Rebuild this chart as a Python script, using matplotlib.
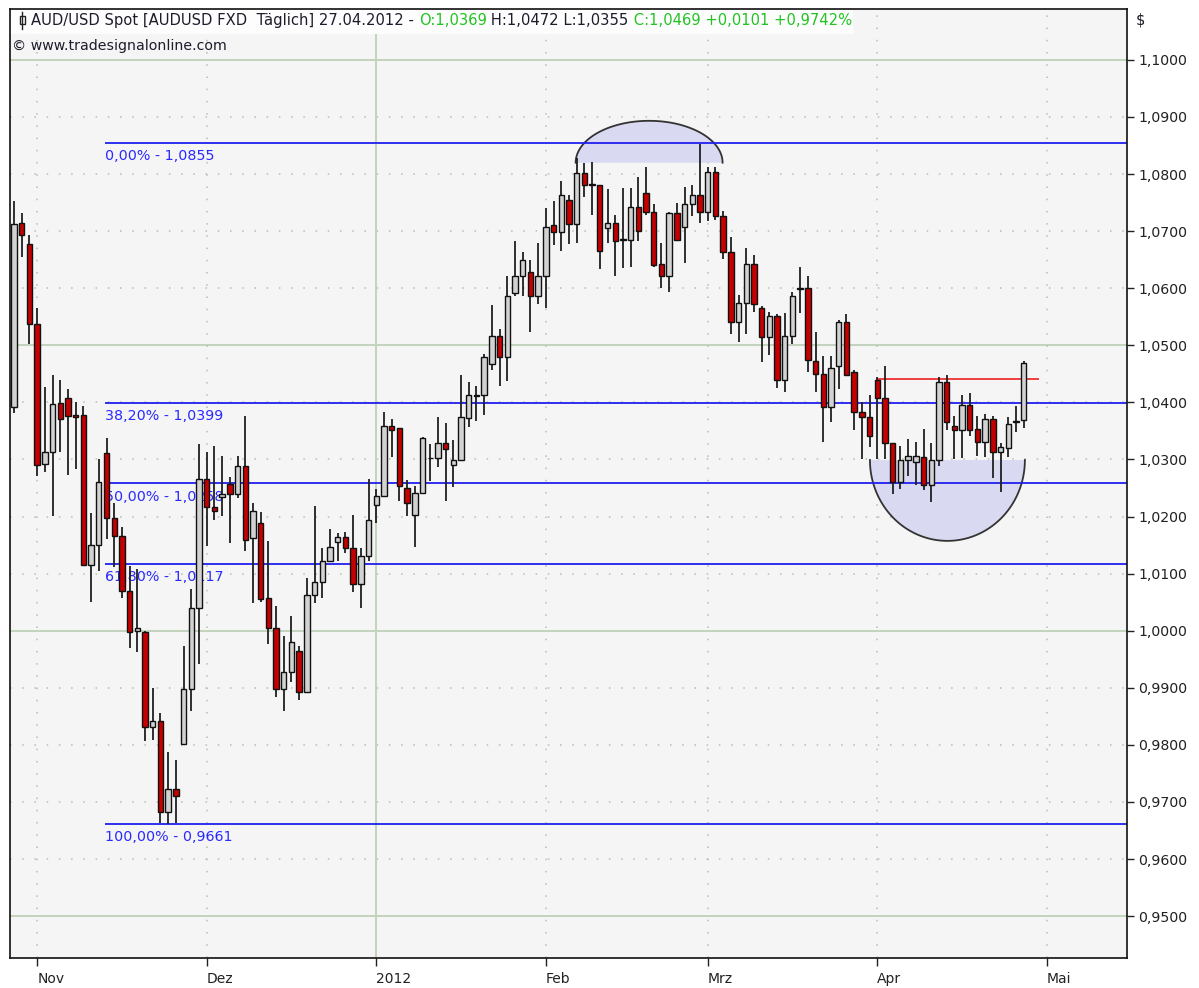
import numpy as np
import matplotlib.pyplot as plt
from matplotlib.patches import Rectangle

# daily OHLC, AUD/USD, 27.10.2011 - 27.04.2012 (trading days)
opens = [1.0392, 1.0715, 1.0678, 1.0538, 1.0292, 1.0313, 1.0399, 1.0407, 1.0378, 1.0378,
         1.0115, 1.0150, 1.0311, 1.0198, 1.0166, 1.0070, 1.0000, 0.9998, 0.9832, 0.9841,
         0.9682, 0.9722, 0.9801, 0.9897, 1.0040, 1.0266, 1.0217, 1.0234, 1.0257, 1.0240,
         1.0288, 1.0163, 1.0189, 1.0058, 1.0005, 0.9897, 0.9928, 0.9965, 0.9893, 1.0063,
         1.0086, 1.0122, 1.0156, 1.0164, 1.0145, 1.0082, 1.0131, 1.0220, 1.0236, 1.0358,
         1.0355, 1.0250, 1.0203, 1.0241, 1.0303, 1.0302, 1.0329, 1.0290, 1.0299, 1.0372,
         1.0413, 1.0413, 1.0467, 1.0517, 1.0479, 1.0591, 1.0621, 1.0628, 1.0586, 1.0621,
         1.0710, 1.0698, 1.0755, 1.0712, 1.0802, 1.0783, 1.0781, 1.0705, 1.0715, 1.0687,
         1.0685, 1.0743, 1.0767, 1.0733, 1.0642, 1.0622, 1.0731, 1.0708, 1.0747, 1.0764,
         1.0733, 1.0804, 1.0726, 1.0664, 1.0540, 1.0575, 1.0643, 1.0565, 1.0514, 1.0551,
         1.0439, 1.0516, 1.0599, 1.0600, 1.0472, 1.0449, 1.0392, 1.0463, 1.0540, 1.0453,
         1.0383, 1.0374, 1.0439, 1.0407, 1.0329, 1.0260, 1.0299, 1.0295, 1.0304, 1.0255,
         1.0299, 1.0435, 1.0358, 1.0351, 1.0395, 1.0353, 1.0330, 1.0371, 1.0313, 1.0320,
         1.0365, 1.0369]
highs = [1.0752, 1.0731, 1.0694, 1.0566, 1.0427, 1.0448, 1.0439, 1.0423, 1.0400, 1.0393,
         1.0206, 1.0301, 1.0337, 1.0224, 1.0182, 1.0114, 1.0108, 1.0000, 0.9899, 0.9855,
         0.9787, 0.9774, 0.9974, 1.0073, 1.0327, 1.0313, 1.0323, 1.0306, 1.0269, 1.0306,
         1.0376, 1.0224, 1.0208, 1.0157, 1.0044, 0.9991, 1.0026, 0.9974, 1.0093, 1.0219,
         1.0145, 1.0178, 1.0171, 1.0173, 1.0203, 1.0145, 1.0266, 1.0248, 1.0383, 1.0371,
         1.0355, 1.0264, 1.0253, 1.0339, 1.0327, 1.0374, 1.0364, 1.0334, 1.0448, 1.0435,
         1.0428, 1.0484, 1.0570, 1.0528, 1.0621, 1.0682, 1.0664, 1.0649, 1.0680, 1.0740,
         1.0753, 1.0788, 1.0764, 1.0829, 1.0820, 1.0822, 1.0781, 1.0773, 1.0729, 1.0776,
         1.0776, 1.0795, 1.0813, 1.0747, 1.0680, 1.0734, 1.0750, 1.0778, 1.0781, 1.0853,
         1.0813, 1.0813, 1.0736, 1.0689, 1.0589, 1.0670, 1.0659, 1.0568, 1.0558, 1.0554,
         1.0556, 1.0594, 1.0638, 1.0621, 1.0523, 1.0481, 1.0481, 1.0544, 1.0554, 1.0456,
         1.0400, 1.0413, 1.0444, 1.0463, 1.0329, 1.0323, 1.0336, 1.0330, 1.0353, 1.0329,
         1.0444, 1.0448, 1.0376, 1.0413, 1.0416, 1.0376, 1.0379, 1.0376, 1.0329, 1.0374,
         1.0393, 1.0472]
lows = [1.0381, 1.0654, 1.0503, 1.0271, 1.0278, 1.0201, 1.0313, 1.0273, 1.0283, 1.0115,
        1.0051, 1.0105, 1.0161, 1.0112, 1.0058, 0.9970, 0.9963, 0.9806, 0.9809, 0.9663,
        0.9661, 0.9663, 0.9801, 0.9860, 0.9942, 1.0149, 1.0194, 1.0201, 1.0154, 1.0233,
        1.0140, 1.0049, 1.0051, 0.9977, 0.9883, 0.9860, 0.9911, 0.9878, 0.9893, 1.0049,
        1.0058, 1.0121, 1.0122, 1.0136, 1.0068, 1.0040, 1.0122, 1.0189, 1.0236, 1.0304,
        1.0227, 1.0201, 1.0147, 1.0241, 1.0262, 1.0287, 1.0227, 1.0252, 1.0299, 1.0357,
        1.0367, 1.0378, 1.0456, 1.0428, 1.0437, 1.0587, 1.0587, 1.0523, 1.0572, 1.0565,
        1.0675, 1.0666, 1.0677, 1.0680, 1.0760, 1.0729, 1.0633, 1.0680, 1.0622, 1.0636,
        1.0638, 1.0682, 1.0729, 1.0638, 1.0600, 1.0593, 1.0685, 1.0645, 1.0727, 1.0715,
        1.0717, 1.0720, 1.0652, 1.0519, 1.0505, 1.0519, 1.0558, 1.0470, 1.0483, 1.0425,
        1.0418, 1.0503, 1.0556, 1.0453, 1.0418, 1.0330, 1.0365, 1.0423, 1.0446, 1.0351,
        1.0301, 1.0322, 1.0301, 1.0301, 1.0240, 1.0248, 1.0271, 1.0255, 1.0246, 1.0225,
        1.0288, 1.0351, 1.0301, 1.0302, 1.0341, 1.0306, 1.0304, 1.0267, 1.0243, 1.0304,
        1.0348, 1.0355]
closes = [1.0713, 1.0694, 1.0538, 1.0290, 1.0313, 1.0397, 1.0371, 1.0376, 1.0374, 1.0115,
          1.0150, 1.0260, 1.0198, 1.0166, 1.0070, 0.9998, 1.0005, 0.9832, 0.9841, 0.9682,
          0.9722, 0.9710, 0.9897, 1.0040, 1.0266, 1.0217, 1.0210, 1.0240, 1.0240, 1.0288,
          1.0159, 1.0210, 1.0056, 1.0005, 0.9897, 0.9927, 0.9981, 0.9893, 1.0063, 1.0086,
          1.0122, 1.0147, 1.0164, 1.0145, 1.0082, 1.0131, 1.0194, 1.0236, 1.0358, 1.0351,
          1.0253, 1.0224, 1.0241, 1.0337, 1.0302, 1.0329, 1.0318, 1.0299, 1.0374, 1.0413,
          1.0412, 1.0479, 1.0517, 1.0479, 1.0587, 1.0621, 1.0649, 1.0586, 1.0621, 1.0708,
          1.0698, 1.0764, 1.0712, 1.0802, 1.0780, 1.0781, 1.0666, 1.0715, 1.0682, 1.0685,
          1.0743, 1.0701, 1.0733, 1.0640, 1.0621, 1.0731, 1.0685, 1.0747, 1.0764, 1.0733,
          1.0804, 1.0726, 1.0663, 1.0540, 1.0575, 1.0643, 1.0572, 1.0514, 1.0551, 1.0439,
          1.0516, 1.0587, 1.0601, 1.0474, 1.0449, 1.0392, 1.0460, 1.0540, 1.0448, 1.0383,
          1.0374, 1.0341, 1.0407, 1.0329, 1.0260, 1.0299, 1.0306, 1.0306, 1.0255, 1.0299,
          1.0435, 1.0365, 1.0351, 1.0395, 1.0351, 1.0330, 1.0371, 1.0313, 1.0322, 1.0362,
          1.0367, 1.0469]

month_idx = [3, 25, 47, 69, 90, 112, 134]
month_labels = ["Nov", "Dez", "2012", "Feb", "Mrz", "Apr", "Mai"]

fib_levels = [1.0855, 1.0399, 1.0258, 1.0117, 0.9661]
fib_pcts = ["0,00%", "38,20%", "50,00%", "61,80%", "100,00%"]
fib_start = 11.8

resist_level = 1.0441
resist_from, resist_to = 112, 133

W, H = 1199, 988
fig = plt.figure(figsize=(W / 100, H / 100), dpi=100)
fig.patch.set_facecolor("white")
ax = fig.add_axes([10 / W, 1 - 958 / H, (1127 - 10) / W, (958 - 9) / H])
ax.set_facecolor("#f5f5f5")
ax.set_xlim(-0.52, 144.4)
ax.set_ylim(0.94266, 1.10892)

# grid
green = "#c3d3bd"
dotc = "#b3c2af"
for k in range(95, 111):
    p = k / 100
    if k % 5 == 0:
        ax.axhline(p, color=green, lw=1.4, zorder=1)
    else:
        ax.axhline(p, color=dotc, lw=1.1, ls=(0, (1, 7)), zorder=1)
for t, lab in zip(month_idx, month_labels):
    if lab == "2012":
        ax.axvline(t, color=green, lw=1.4, zorder=1)
    else:
        ax.axvline(t, color=dotc, lw=1.1, ls=(0, (1, 7)), zorder=1)

# highlighted half ellipses
def half_ellipse(cx, cy, a, b, upper):
    th = np.linspace(0, np.pi, 120)
    ex = cx + a * np.cos(th)
    ey = cy + b * np.sin(th) * (1 if upper else -1)
    ax.fill(ex, ey, color="#d9d9f1", zorder=1.5, lw=0)
    ax.plot(ex, ey, color="#333333", lw=1.3, zorder=1.6)

half_ellipse(82.4, 1.08199, 9.53, 0.00734, True)
half_ellipse(121.1, 1.02990, 10.05, 0.01416, False)

# fibonacci levels
ax.hlines(fib_levels, fib_start, 144.4, color="#2020ee", lw=1.3, zorder=2)
for lev, pct in zip(fib_levels, fib_pcts):
    ax.annotate(f"{pct} - {lev:.4f}".replace(".", ","), xy=(fib_start, lev),
                xytext=(0, -9.5), textcoords="offset points", va="center", ha="left",
                color="#2a2aff", fontsize=10.3, zorder=2)

ax.hlines(resist_level, resist_from, resist_to, color="#ee2020", lw=1.2, zorder=2)

# candles
x = np.arange(len(opens))
o = np.array(opens); h = np.array(highs); l = np.array(lows); c = np.array(closes)
up = c >= o
ax.vlines(x, l, h, color="#202020", lw=1.3, zorder=3)
bottom = np.minimum(o, c)
height = np.maximum(np.abs(c - o), 0.00006)
ax.bar(x, height, bottom=bottom, width=0.7,
       color=np.where(up, "#d2d2d2", "#c40000"), edgecolor="#111111",
       linewidth=1.0, zorder=4)

# axes styling
for s in ax.spines.values():
    s.set_color("#111111")
    s.set_linewidth(1.2)
ax.yaxis.tick_right()
yt = np.arange(95, 111) / 100
ax.set_yticks(yt)
ax.set_yticklabels([f"{v:.4f}".replace(".", ",") for v in yt])
ax.tick_params(axis="y", length=5, width=1, pad=3, labelsize=10.2, colors="#222222")
ax.set_xticks(month_idx)
ax.set_xticklabels(month_labels)
for lbl in ax.get_xticklabels():
    lbl.set_horizontalalignment("left")
ax.tick_params(axis="x", length=6, width=1, pad=4, labelsize=10, colors="#222222")

# header
fig.add_artist(Rectangle((11 / W, 1 - 34 / H), (853 - 11) / W, 24 / H,
                         transform=fig.transFigure, facecolor="#fdfdfd", edgecolor="none"))
fig.add_artist(Rectangle((19.5 / W, 1 - 24 / H), 5 / W, 8 / H, transform=fig.transFigure,
                         facecolor="white", edgecolor="#222222", lw=1))
fig.add_artist(plt.Line2D([22 / W, 22 / W], [1 - 29 / H, 1 - 12 / H],
                          transform=fig.transFigure, color="#222222", lw=1))

r = fig.canvas.get_renderer()
dark = "#1c1c2c"
gr = "#22c322"
pieces = [("AUD/USD Spot [AUDUSD FXD  Täglich] 27.04.2012 - ", dark), ("O:1,0369", gr),
          (" H:1,0472 L:1,0355", dark), (" C:1,0469 +0,0101 +0,9742%", gr)]
xp = 31
for s, col in pieces:
    t = fig.text(xp / W, 1 - 20.5 / H, s, color=col, fontsize=10.6, va="center", ha="left")
    xp += t.get_window_extent(renderer=r).width
fig.text(12 / W, 1 - 46 / H, "© www.tradesignalonline.com", color=dark, fontsize=10.2,
         va="center", ha="left")
fig.text(1136 / W, 1 - 20 / H, "$", color=dark, fontsize=10.5, va="center", ha="left")

fig.savefig("out.png", dpi=100)
